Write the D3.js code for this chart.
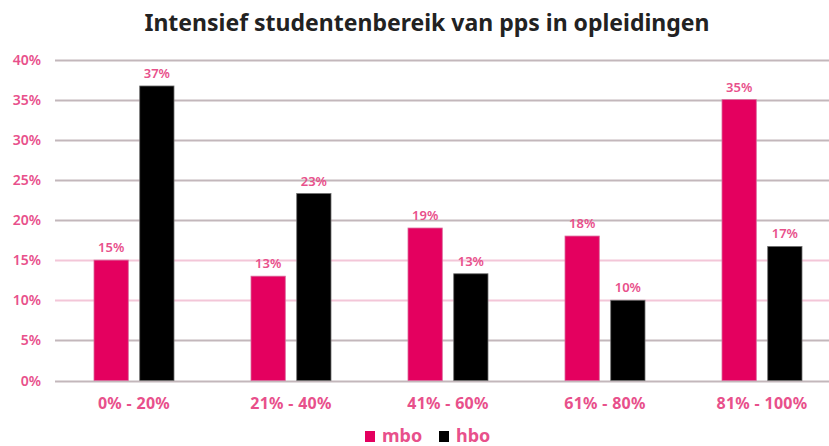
<!DOCTYPE html>
<html>
<head>
<meta charset="utf-8">
<script src="https://cdn.jsdelivr.net/npm/d3@7"></script>
<style>
  body { margin: 0; background: #fff; }
  text { font-family: "Noto Sans", sans-serif; }
</style>
</head>
<body>
<div id="viz"></div>
<script>
var categories = ['0% - 20%', '21% - 40%', '41% - 60%', '61% - 80%', '81% - 100%'];
var series = ['mbo', 'hbo'];
var mboValues = [15, 13, 19, 18, 35];
var hboValues = [36.7, 23.3, 13.3, 10, 16.7];
var yTicks = [0, 5, 10, 15, 20, 25, 30, 35, 40];

var width = 829,
    height = 446,
    pink = '#e4005f',
    labelPink = '#e8508b';

var svg = d3.select('#viz').append('svg')
    .attr('width', width)
    .attr('height', height)
    .style('background', '#fff');

var xScale = d3.scaleBand()
    .domain(categories)
    .range([55.5, 840.5])
    .padding(0);

var xInner = d3.scaleBand()
    .domain(series)
    .range([0, 80])
    .paddingInner(0.25)
    .paddingOuter(0);

var yScale = d3.scaleLinear()
    .domain([0, 40])
    .range([380.5, 59.5]);

var colors = d3.scaleOrdinal()
    .domain(series)
    .range([pink, '#000000']);

var strokes = d3.scaleOrdinal()
    .domain(series)
    .range(['#d9689a', '#6e6e6e']);

// title
svg.append('text')
    .attr('x', 427)
    .attr('y', 31)
    .attr('text-anchor', 'middle')
    .style('font-size', '23px')
    .style('font-weight', 700)
    .style('fill', '#222')
    .text('Intensief studentenbereik van pps in opleidingen');

// grid lines
svg.append('g').selectAll('line').data(yTicks)
    .enter().append('line')
    .attr('x1', 55)
    .attr('x2', width)
    .attr('y1', function(d) { return Math.round(yScale(d)) + 0.5; })
    .attr('y2', function(d) { return Math.round(yScale(d)) + 0.5; })
    .attr('stroke', function(d) { return (d == 10 || d == 15) ? '#f3c6d8' : '#c3b7bb'; })
    .attr('stroke-width', 2);

// y axis labels
svg.append('g').selectAll('text').data(yTicks)
    .enter().append('text')
    .attr('x', 41)
    .attr('y', function(d) { return yScale(d) + 5; })
    .attr('text-anchor', 'end')
    .style('font-size', '14px')
    .style('font-weight', 600)
    .style('fill', labelPink)
    .text(function(d) { return d + '%'; });

var rows = categories.map(function(c, i) {
    return { cat: c, values: [
        { key: 'mbo', value: mboValues[i] },
        { key: 'hbo', value: hboValues[i] }
    ] };
});

var groups = svg.append('g').selectAll('g').data(rows)
    .enter().append('g')
    .attr('transform', function(d) {
        return 'translate(' + (xScale(d.cat) + xScale.bandwidth() / 2 - 40) + ',0)';
    });

groups.selectAll('rect').data(function(d) { return d.values; })
    .enter().append('rect')
    .attr('x', function(d) { return xInner(d.key); })
    .attr('width', xInner.bandwidth())
    .attr('y', function(d) { return yScale(d.value); })
    .attr('height', function(d) { return yScale(0) - yScale(d.value); })
    .attr('fill', function(d) { return colors(d.key); })
    .attr('stroke', function(d) { return strokes(d.key); })
    .attr('stroke-width', 0.8);

groups.selectAll('text').data(function(d) { return d.values; })
    .enter().append('text')
    .attr('x', function(d) { return xInner(d.key) + xInner.bandwidth() / 2; })
    .attr('y', function(d) { return yScale(d.value) - 8; })
    .attr('text-anchor', 'middle')
    .style('font-size', '13px')
    .style('font-weight', 600)
    .style('fill', labelPink)
    .text(function(d) { return Math.round(d.value) + '%'; });

// x axis labels
svg.append('g').selectAll('text').data(categories)
    .enter().append('text')
    .attr('x', function(d) { return xScale(d) + xScale.bandwidth() / 2; })
    .attr('y', 409)
    .attr('text-anchor', 'middle')
    .style('font-size', '16px')
    .style('font-weight', 700)
    .style('letter-spacing', '0.3px')
    .style('fill', labelPink)
    .text(function(d) { return d; });

// legend
var legendX = [365, 439];
var legend = svg.append('g').selectAll('g').data(series)
    .enter().append('g')
    .attr('transform', function(d, i) { return 'translate(' + legendX[i] + ',431)'; });

legend.append('rect')
    .attr('width', 10)
    .attr('height', 11)
    .attr('fill', function(d) { return colors(d); });

legend.append('text')
    .attr('x', 17)
    .attr('y', 11)
    .style('font-size', '18px')
    .style('font-weight', 700)
    .style('fill', labelPink)
    .text(function(d) { return d; });
</script>
</body>
</html>
